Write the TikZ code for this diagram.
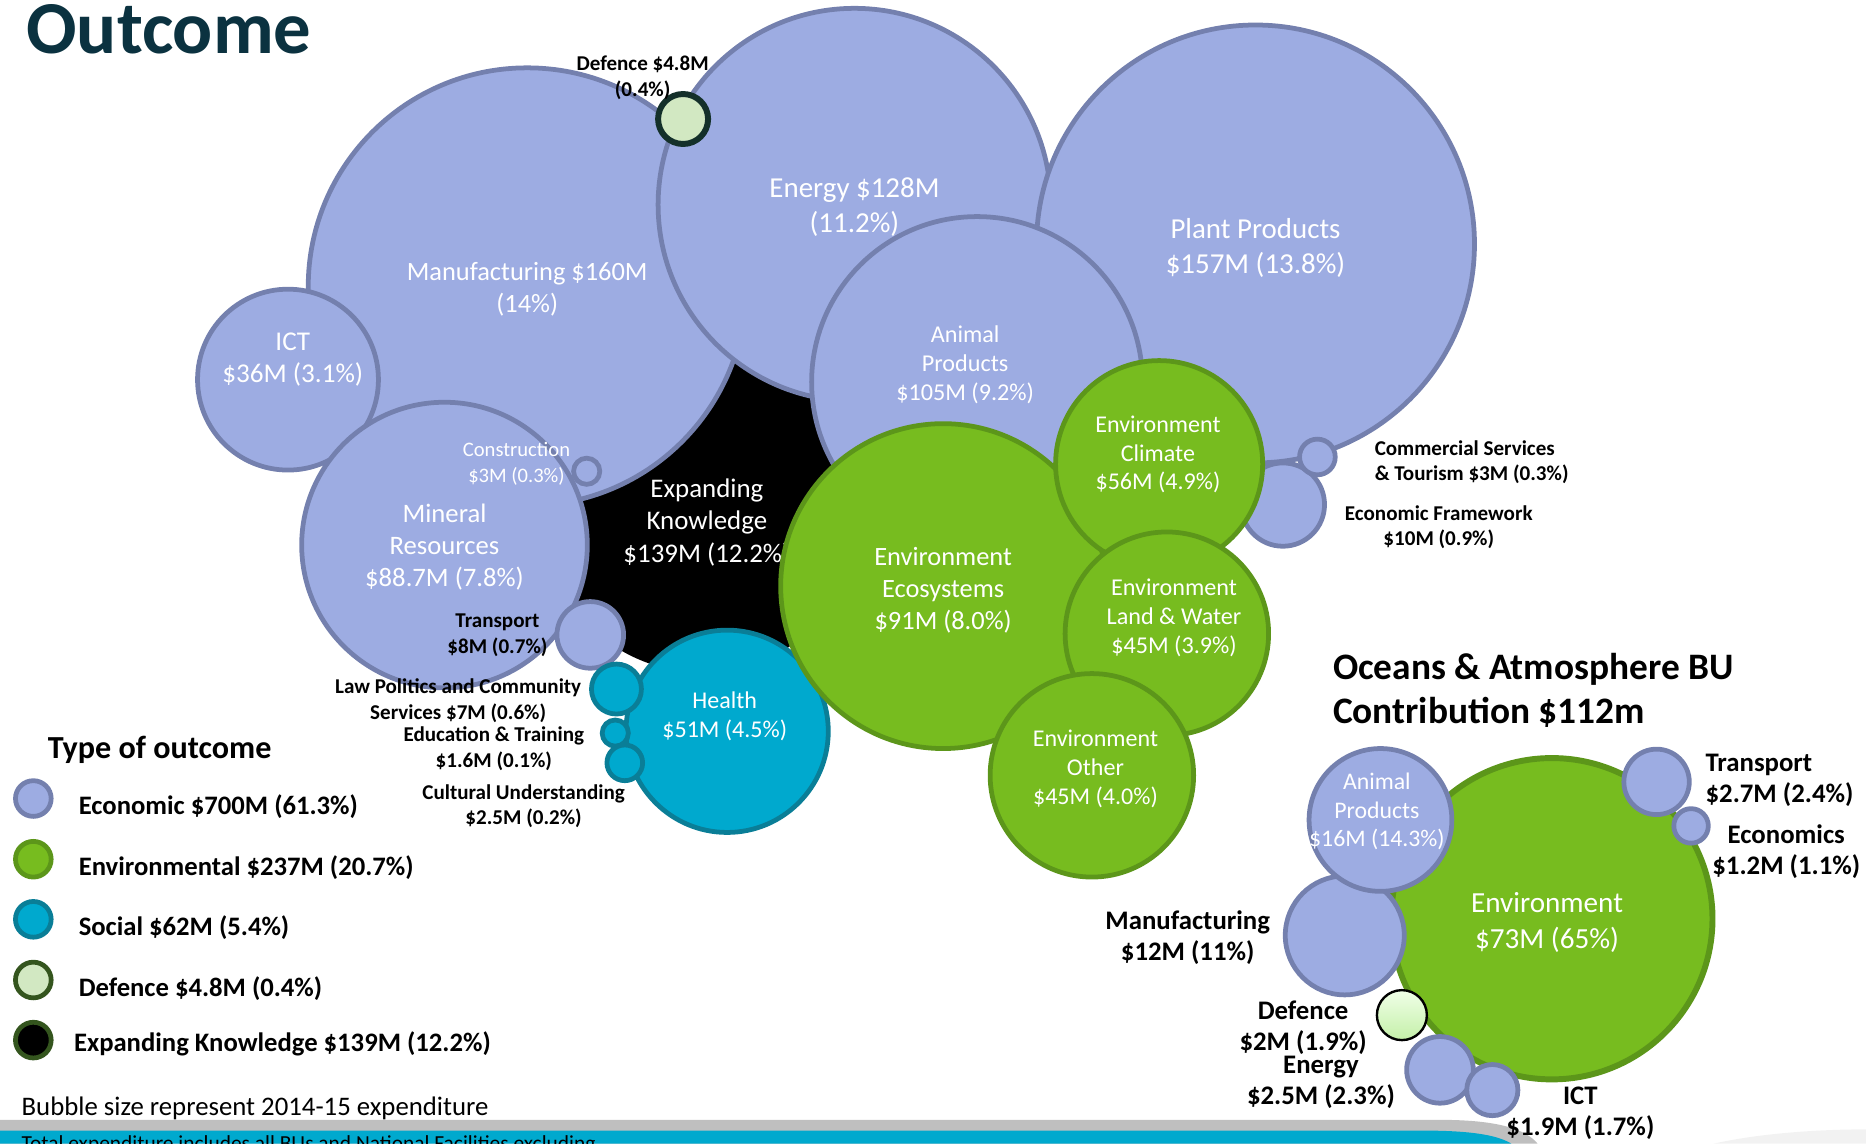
\documentclass[tikz,border=0pt]{standalone}
\usepackage{fontspec}
\setmainfont{Carlito}
\definecolor{econF}{HTML}{9DACE2}
\definecolor{econB}{HTML}{7480AE}
\definecolor{envF}{HTML}{77BC1F}
\definecolor{envB}{HTML}{5C961A}
\definecolor{socF}{HTML}{00A9CE}
\definecolor{socB}{HTML}{0A7E97}
\definecolor{defF}{HTML}{D2E8C2}
\definecolor{defB}{HTML}{14302A}
\definecolor{legDefB}{HTML}{34551E}
\definecolor{titleC}{HTML}{0B3240}
\definecolor{bandG}{HTML}{BFBFBF}
\definecolor{bandC}{HTML}{00A9CE}
\definecolor{oDefTop}{HTML}{F0FFE8}
\definecolor{oDefBot}{HTML}{C4F0A8}
\newcommand\setfs[2]{\fontsize{#1}{#2}\selectfont}
\begin{document}
\begin{tikzpicture}[x=1pt,y=-1pt,
 bub/.style={circle,inner sep=0pt,outer sep=0pt,line width=4pt,minimum size={2*#1-4}},
 econ/.style={bub=#1,draw=econB,fill=econF},
 env/.style={bub=#1,draw=envB,fill=envF},
 soc/.style={bub=#1,draw=socB,fill=socF},
 wlab/.style={text=white,align=center,inner sep=0pt},
 blab/.style={text=black,align=center,inner sep=0pt,font=\bfseries\setfs{17.7}{21.5}},
 olab/.style={text=black,align=center,inner sep=0pt,font=\bfseries\setfs{22.5}{26}},
 legc/.style={circle,inner sep=0pt,line width=4pt,minimum size=30},
 legt/.style={anchor=west,inner sep=0pt,font=\bfseries\setfs{22.4}{26}}]
\useasboundingbox (0,0) rectangle (1568,961);
\begin{scope}
\clip (0,0) rectangle (1568,961);
% bottom band
\fill[bandG] (0,941) -- (1210,941) .. controls (1262,941) and (1283,950) .. (1292,961) -- (0,961) -- cycle;
\fill[bandC] (0,950) -- (1195,950) .. controls (1242,950) and (1260,955) .. (1270,961) -- (0,961) -- cycle;
\fill[gray!10] (1440,961) .. controls (1480,952) and (1530,949) .. (1568,949) -- (1568,961) -- cycle;
\node[anchor=base west,inner sep=0pt,font=\setfs{18}{20}] (foot) at (18,967) {Total expenditure includes all BUs and National Facilities excluding};

% title
\node[anchor=base west,inner sep=0pt,text=titleC,font=\bfseries\setfs{62.8}{62}] (title) at (22,45) {Outcome};

% main bubbles
\node[bub=135,fill=black,draw=black] (ek) at (590,430) {};
\node[econ=186] (mfg) at (443,241) {};
\node[wlab,font=\setfs{22.2}{27}] (mfgT) at (443,243) {Manufacturing \$160M\\(14\%)};
\node[econ=78] (ict) at (242,319) {};
\node[wlab,font=\setfs{22.8}{27}] (ictT) at (246,302) {ICT\\\$36M (3.1\%)};
\node[econ=167] (nrg) at (718,172) {};
\node[wlab,font=\setfs{24.3}{30}] (nrgT) at (718,174) {Energy \$128M\\(11.2\%)};
\node[econ=37] (ef) at (1078,424) {};
\node[econ=186] (plant) at (1055,205) {};
\node[wlab,font=\setfs{24.3}{29}] (plantT) at (1055,208.5) {Plant Products\\\$157M (13.8\%)};
\node[econ=141] (anim) at (821,321) {};
\node[wlab,font=\setfs{20.3}{24}] (animT) at (811,306.5) {Animal\\Products\\\$105M (9.2\%)};
\node[econ=122] (min) at (373.5,458) {};
\node[wlab,font=\setfs{22.4}{27}] (minT) at (373.5,460) {Mineral\\Resources\\\$88.7M (7.8\%)};
\node[econ=13] (cons) at (493,396) {};
\node[wlab,font=\setfs{17.3}{22}] (consT) at (434,390) {Construction\\\$3M (0.3\%)};
\node[econ=30] (trn) at (496,533.5) {};
\node[soc=87] (hlth) at (611,614.5) {};
\node[wlab,font=\setfs{20.2}{24}] (hlthT) at (609,602) {Health\\\$51M (4.5\%)};
\node[soc=23] (law) at (518,579) {};
\node[soc=13] (edu) at (517,616) {};
\node[soc=17] (cult) at (525,641) {};
\node[wlab,font=\setfs{22.6}{27}] (ekT) at (594,439) {Expanding\\Knowledge\\\$139M (12.2\%)};
\node[env=138.5] (eco) at (792.5,492.5) {};
\node[wlab,font=\setfs{22.2}{27}] (ecoT) at (792.5,496) {Environment\\Ecosystems\\\$91M (8.0\%)};
\node[env=89] (clim) at (974,390) {};
\node[wlab,font=\setfs{20.2}{24}] (climT) at (973,382) {Environment\\Climate\\\$56M (4.9\%)};
\node[env=87.5] (lw) at (980.5,532.5) {};
\node[wlab,font=\setfs{20.3}{24.5}] (lwT) at (986.5,519) {Environment\\Land \& Water\\\$45M (3.9\%)};
\node[env=87.5] (oth) at (917.5,651.5) {};
\node[wlab,font=\setfs{20.2}{24.5}] (othT) at (920.5,646) {Environment\\Other\\\$45M (4.0\%)};
\node[econ=17] (com) at (1107,384) {};
\node[bub=23,line width=5pt,draw=defB,fill=defF] (def) at (574,100) {};

% black labels
\node[blab] (defT) at (540,65.5) {Defence \$4.8M\\(0.4\%)};
\node[blab,anchor=west,align=left] (comT) at (1155,388.5) {Commercial Services\\\& Tourism \$3M (0.3\%)};
\node[blab] (efT) at (1209,443) {Economic Framework\\\$10M (0.9\%)};
\node[blab] (trnT) at (418,534) {Transport\\\$8M (0.7\%)};
\node[blab] (lawT) at (385,589) {Law Politics and Community\\Services \$7M (0.6\%)};
\node[blab] (eduT) at (415,629) {Education \& Training\\\$1.6M (0.1\%)};
\node[blab] (cultT) at (440,677.5) {Cultural Understanding\\\$2.5M (0.2\%)};

% legend
\node[anchor=west,inner sep=0pt,font=\bfseries\setfs{27}{30}] (legH) at (40,630) {Type of outcome};
\node[legc,draw=econB,fill=econF] (lg1) at (28,671) {};
\node[legc,draw=envB,fill=envF] (lg2) at (28,722) {};
\node[legc,draw=socB,fill=socF] (lg3) at (28,772.5) {};
\node[legc,draw=legDefB,fill=defF] (lg4) at (28,823.5) {};
\node[legc,draw=legDefB,fill=black] (lg5) at (28,874) {};
\node[legt] (lt1) at (66,678) {Economic \$700M (61.3\%)};
\node[legt] (lt2) at (66,729) {Environmental \$237M (20.7\%)};
\node[legt] (lt3) at (66,779.5) {Social \$62M (5.4\%)};
\node[legt] (lt4) at (66,830.5) {Defence \$4.8M (0.4\%)};
\node[legt] (lt5) at (62,877.5) {Expanding Knowledge \$139M (12.2\%)};
\node[anchor=west,inner sep=0pt,font=\setfs{22.5}{25}] (note) at (18,931) {Bubble size represent 2014-15 expenditure};

% Oceans & Atmosphere
\node[anchor=west,align=left,inner sep=0pt,font=\bfseries\setfs{31.4}{37}] (oaH) at (1120,580) {Oceans \& Atmosphere BU\\Contribution \$112m};
\node[env=137,line width=5pt] (oenv) at (1304,772) {};
\node[wlab,font=\setfs{24.5}{30}] (oenvT) at (1300,775) {Environment\\\$73M (65\%)};
\node[econ=52] (omfg) at (1130,786) {};
\node[econ=62] (oanim) at (1160,689) {};
\node[wlab,font=\setfs{20}{24}] (oanimT) at (1157,682) {Animal\\Products\\\$16M (14.3\%)};
\node[econ=29.5] (otrn) at (1392,657) {};
\node[econ=16.5] (oeco) at (1421,694) {};
\node[econ=30] (onrg) at (1210,899) {};
\node[circle,inner sep=0pt,line width=2pt,minimum size=42,draw=black,top color=oDefTop,bottom color=oDefBot] (odef) at (1178,853) {};
\node[econ=23.5] (oict) at (1254,916) {};
\node[olab,anchor=west,align=left] (otrnT) at (1433,655.5) {Transport\\\$2.7M (2.4\%)};
\node[olab] (oecoT) at (1501,715.5) {Economics\\\$1.2M (1.1\%)};
\node[olab] (omfgT) at (998,787.5) {Manufacturing\\\$12M (11\%)};
\node[olab] (odefT) at (1095,863.5) {Defence\\\$2M (1.9\%)};
\node[olab] (onrgT) at (1110,909.5) {Energy\\\$2.5M (2.3\%)};
\node[olab] (oictT) at (1328,935.5) {ICT\\\$1.9M (1.7\%)};
\end{scope}
\end{tikzpicture}
\end{document}
